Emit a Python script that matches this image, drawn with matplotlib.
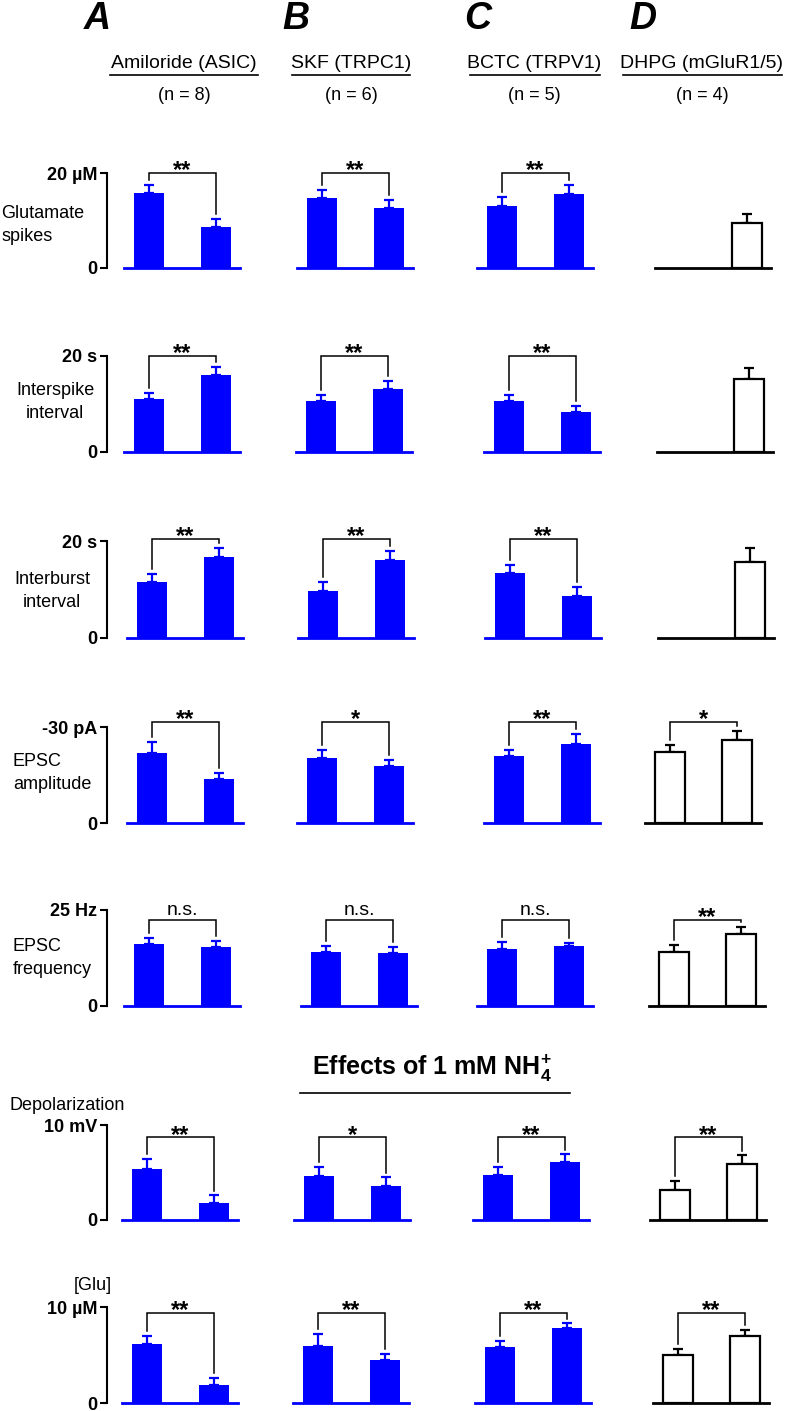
import numpy as np
import matplotlib.pyplot as plt
from matplotlib import font_manager
from matplotlib.lines import Line2D

installed = {f.name for f in font_manager.fontManager.ttflist}
FONT = 'Liberation Sans' if 'Liberation Sans' in installed else 'DejaVu Sans'

plt.rcParams.update({
    "font.family": [FONT, "DejaVu Sans"],
    "mathtext.fontset": "custom",
    "mathtext.rm": FONT,
    "mathtext.bf": FONT + ":bold",
    "font.size": 13,
})

BLUE = '#0000ff'
W, H = 787, 1411

# ---- data ----
panel_letters = ['A', 'B', 'C', 'D']
drugs = ['Amiloride (ASIC)', 'SKF (TRPC1)', 'BCTC (TRPV1)', 'DHPG (mGluR1/5)']
n_cells = [8, 6, 5, 4]
row_labels = ['Glutamate\nspikes', 'Interspike\ninterval', 'Interburst\ninterval',
              'EPSC\namplitude', 'EPSC\nfrequency', 'Depolarization', '[Glu]']
row_top = [20, 20, 20, 30, 25, 10, 10]
row_top_labels = ['20 µM', '20 s', '20 s', '-30 pA', '25 Hz', '10 mV', '10 µM']

# (control, drug) per row
amiloride_mean = [(15.8, 8.6), (11.0, 16.0), (11.5, 16.7), (21.9, 13.7), (16.1, 15.4), (5.4, 1.8), (6.1, 1.9)]
amiloride_sem = [(1.7, 1.7), (1.3, 1.7), (1.7, 1.9), (3.4, 1.9), (1.6, 1.5), (1.0, 0.8), (0.9, 0.7)]
skf_mean = [(14.7, 12.6), (10.6, 13.1), (9.7, 16.1), (20.3, 17.8), (14.1, 13.8), (4.6, 3.6), (5.9, 4.5)]
skf_sem = [(1.7, 1.7), (1.3, 1.7), (1.8, 1.8), (2.5, 1.9), (1.5, 1.6), (1.0, 0.9), (1.3, 0.6)]
bctc_mean = [(13.1, 15.6), (10.6, 8.3), (13.4, 8.7), (20.9, 24.7), (14.8, 15.6), (4.7, 6.1), (5.8, 7.8)]
bctc_sem = [(1.8, 1.9), (1.3, 1.3), (1.6, 1.8), (1.9, 3.1), (1.9, 0.8), (0.9, 0.8), (0.7, 0.5)]
dhpg_mean = [(None, 9.5), (None, 15.2), (None, 15.7), (22.2, 25.9), (14.1, 18.75), (3.2, 5.9), (5.0, 7.0)]
dhpg_sem = [(None, 1.9), (None, 2.3), (None, 2.9), (2.2, 2.9), (1.8, 1.85), (0.9, 0.9), (0.6, 0.6)]

amiloride_sig = ['**', '**', '**', '**', 'n.s.', '**', '**']
skf_sig = ['**', '**', '**', '*', 'n.s.', '*', '**']
bctc_sig = ['**', '**', '**', '**', 'n.s.', '**', '**']
dhpg_sig = [None, None, None, '*', '**', '**', '**']

means = [amiloride_mean, skf_mean, bctc_mean, dhpg_mean]
sems = [amiloride_sem, skf_sem, bctc_sem, dhpg_sem]
sigs = [amiloride_sig, skf_sig, bctc_sig, dhpg_sig]
filled = [True, True, True, False]

# ---- layout (pixels) ----
zero_y = [268, 452, 638, 823, 1006, 1220, 1403]
top_y = [173, 356, 541, 727, 910, 1125, 1307]
bar1_x = [[149, 322, 502, 680],
          [149, 321, 509, 682],
          [152, 323, 510, 683],
          [152, 322, 509, 670],
          [149, 326, 502, 674],
          [147, 319, 498, 675],
          [147, 318, 500, 678]]
bracket_frac = [1.0, 1.0, 1.02, 1.05, 0.9, 0.87, 0.94]
BAR_GAP = 67
YAXIS_X = 107

fig = plt.figure(figsize=(W / 100, H / 100), dpi=100)


def ftext(x, y, s, **kw):
    return fig.text(x / W, 1 - y / H, s, **kw)


def fline(x0, x1, y, lw=1.2):
    fig.add_artist(Line2D([x0 / W, x1 / W], [1 - y / H, 1 - y / H], color='black', lw=lw))


for r in range(7):
    for c in range(4):
        c1 = bar1_x[r][c]
        left = c1 - 25
        right = c1 + BAR_GAP + 24
        ax = fig.add_axes([left / W, 1 - zero_y[r] / H, (right - left) / W,
                           (zero_y[r] - top_y[r]) / H])
        ax.set_xlim(-25 / BAR_GAP, 1 + 24 / BAR_GAP)
        ax.set_ylim(0, row_top[r])
        ax.patch.set_visible(False)
        for s in ['top', 'right']:
            ax.spines[s].set_visible(False)
        edge = BLUE if filled[c] else 'black'
        ax.spines['bottom'].set_color(edge)
        ax.spines['bottom'].set_linewidth(2.0)
        ax.set_xticks([])

        if c == 0:
            ax.spines['left'].set_position(('outward', (left - YAXIS_X) * 0.72))
            ax.spines['left'].set_linewidth(1.5)
            ax.set_yticks([0, row_top[r]])
            ax.set_yticklabels(['0', row_top_labels[r]], fontweight='bold', fontsize=13)
            ax.tick_params(axis='y', length=5, width=1.5, pad=2)
        else:
            ax.spines['left'].set_visible(False)
            ax.set_yticks([])

        m = means[c][r]
        e = sems[c][r]
        xs = [i for i in range(2) if m[i] is not None]
        vals = [m[i] for i in xs]
        errs = [e[i] for i in xs]
        ax.bar(xs, vals, width=30 / BAR_GAP,
               color=BLUE if filled[c] else 'white',
               edgecolor=edge, linewidth=0 if filled[c] else 1.6, zorder=2)
        ax.errorbar(xs, vals, yerr=[np.zeros(len(xs)), errs], fmt='none',
                    ecolor=edge, elinewidth=1.6, capsize=3.3, capthick=1.6, zorder=1)

        sig = sigs[c][r]
        if sig is not None:
            top = row_top[r]
            ybr = top * bracket_frac[r]
            gap = 0.05 * top
            leg = [m[i] + e[i] + gap for i in range(2)]
            ax.plot([0, 0, 1, 1], [leg[0], ybr, ybr, leg[1]], color='black', lw=1.1,
                    clip_on=False, solid_joinstyle='miter')
            if sig == 'n.s.':
                ax.annotate(sig, (0.5, ybr), xytext=(0, 3), textcoords='offset points',
                            ha='center', va='baseline', fontsize=14, annotation_clip=False)
            else:
                ax.annotate(sig, (0.5, ybr), xytext=(0, -3), textcoords='offset points',
                            ha='center', va='baseline', fontsize=17, fontweight='bold',
                            annotation_clip=False)

# row labels
ftext(1, 225, row_labels[0], ha='left', va='center', linespacing=1.4)
ftext(55, 402, row_labels[1], ha='center', va='center', linespacing=1.4, multialignment='center')
ftext(52, 591, row_labels[2], ha='center', va='center', linespacing=1.4, multialignment='center')
ftext(13, 773, row_labels[3], ha='left', va='center', linespacing=1.4)
ftext(13, 958, row_labels[4], ha='left', va='center', linespacing=1.4)
ftext(67, 1105, row_labels[5], ha='center', va='center')
ftext(93, 1286, row_labels[6], ha='center', va='center')

# column headers
letter_x = [97, 296, 478, 643]
header_x = [184, 351, 534, 702]
underline = [(110, 258), (292, 410), (470, 600), (623, 782)]
for c in range(4):
    ftext(letter_x[c], 19, panel_letters[c], ha='center', va='center', fontsize=27,
          fontweight='bold', fontstyle='italic')
    ftext(header_x[c], 63, drugs[c], ha='center', va='center', fontsize=14)
    fline(underline[c][0], underline[c][1], 75)
    ftext(header_x[c], 96, f'(n = {n_cells[c]})', ha='center', va='center', fontsize=13)

# NH4 title
ftext(432, 1068, r'Effects of 1 mM NH$_\mathbf{4}^\mathbf{+}$', ha='center', va='center',
      fontsize=18, fontweight='bold')
fline(300, 570, 1093)

fig.savefig('out.png', dpi=100)
